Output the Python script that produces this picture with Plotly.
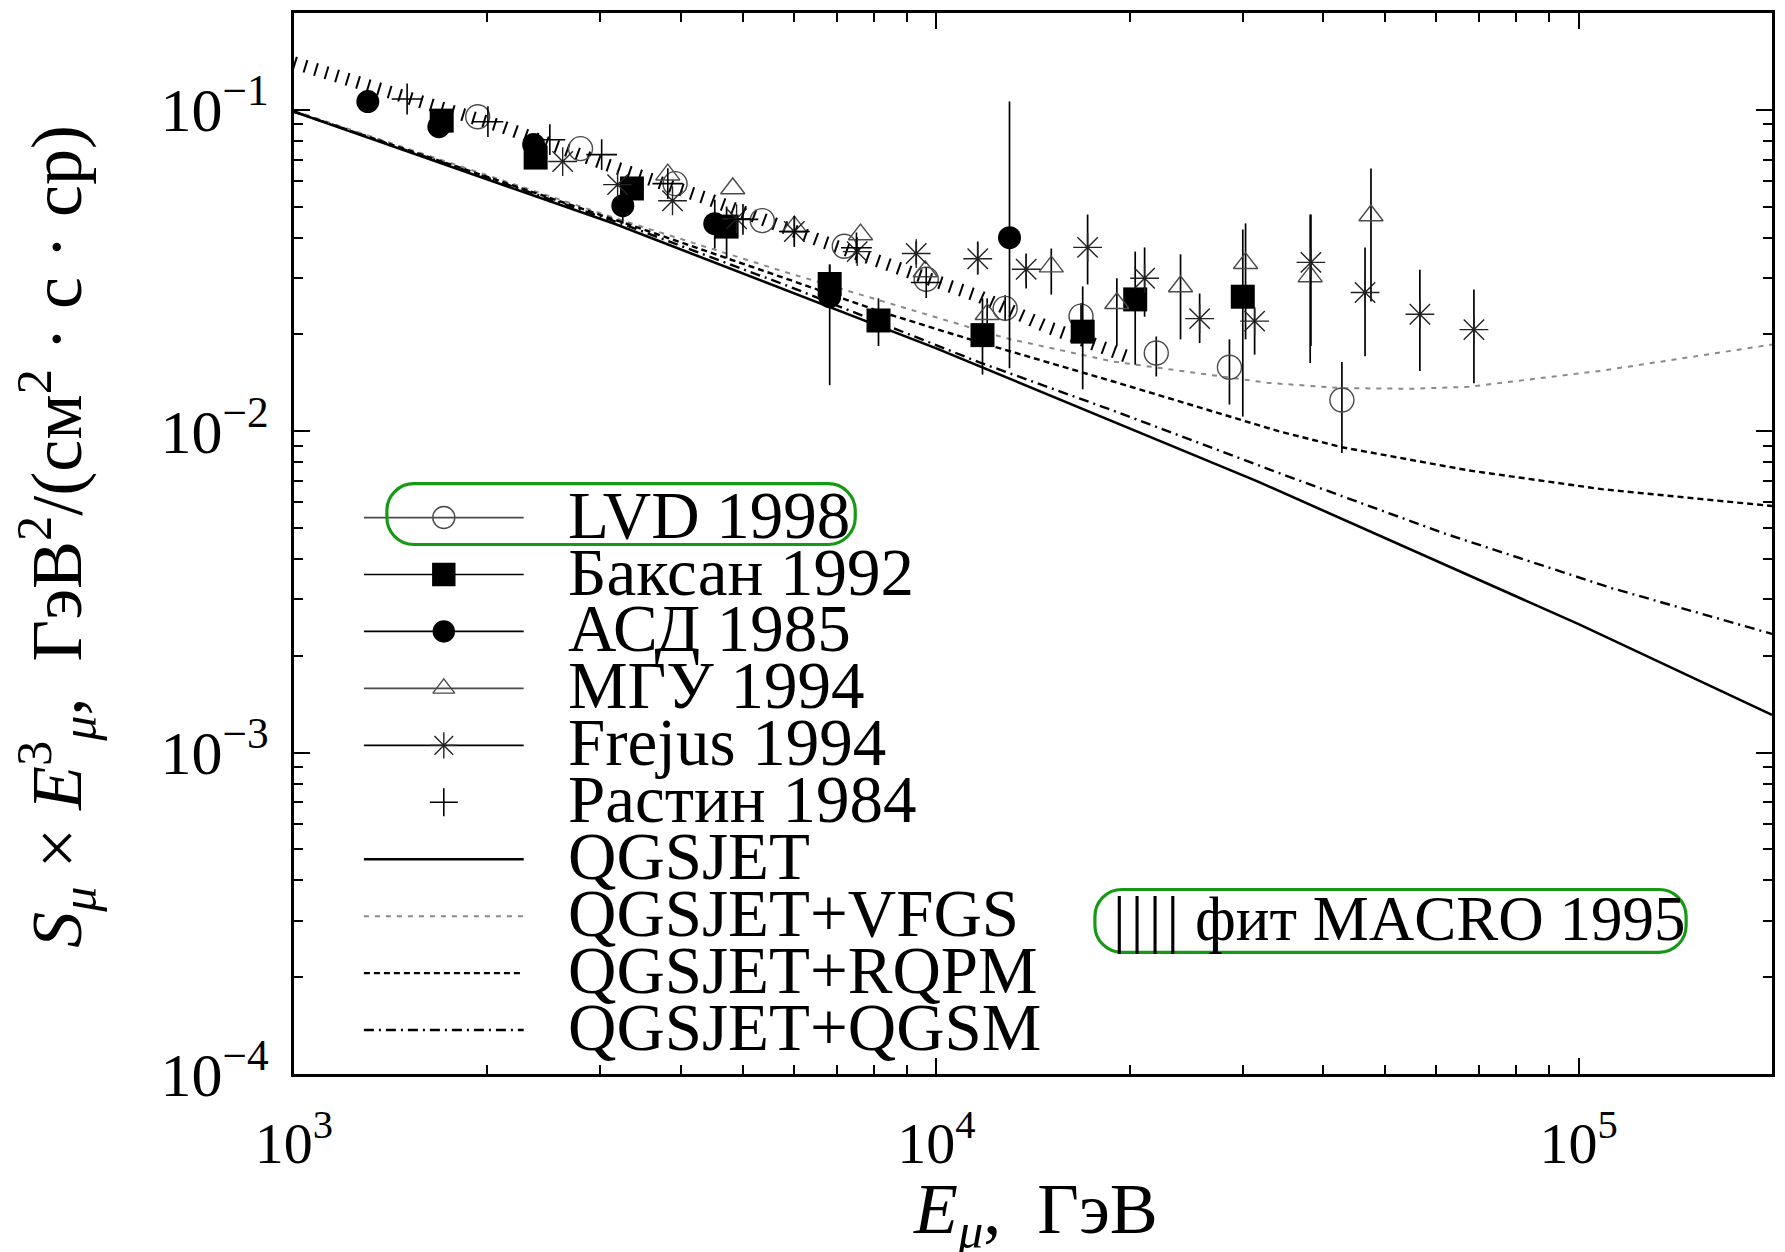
import plotly.graph_objects as go

# ---------------------------------------------------------------------------
# Muon spectrum  S_mu * E^3  [GeV^2 / (cm^2 s sr)]  versus  E_mu [GeV]
# ---------------------------------------------------------------------------
lvd_e = [1932, 2793, 3920, 5358, 7190, 9645, 12800, 16800, 22000, 28600, 42800]
lvd_s = [0.0951, 0.0757, 0.0589, 0.0452, 0.0376, 0.0297, 0.0241, 0.0228, 0.0175, 0.0158, 0.0125]
lvd_hi = [0.0951, 0.0757, 0.0589, 0.0452, 0.0376, 0.0297, 0.0265, 0.0250, 0.0197, 0.0193, 0.0164]
lvd_lo = [0.0951, 0.0757, 0.0589, 0.0452, 0.0376, 0.0297, 0.0220, 0.0210, 0.0148, 0.0121, 0.00855]

baksan_e = [1698, 2378, 3358, 4715, 6823, 8128, 11800, 16900, 20400, 30000]
baksan_s = [0.0925, 0.0710, 0.0569, 0.0433, 0.0287, 0.0221, 0.0199, 0.0204, 0.0257, 0.0262]
baksan_hi = [0.0925, 0.0710, 0.0569, 0.0500, 0.0330, 0.0259, 0.0259, 0.0282, 0.0362, 0.0424]
baksan_lo = [0.0925, 0.0710, 0.0569, 0.0345, 0.0287, 0.0184, 0.0150, 0.0135, 0.0161, 0.0111]

asd_e = [1303, 1681, 2361, 3250, 4519, 6823, 13000]
asd_s = [0.106, 0.0886, 0.0779, 0.0503, 0.0442, 0.0262, 0.0400]
asd_hi = [0.106, 0.0886, 0.0779, 0.0550, 0.0525, 0.0330, 0.106]
asd_lo = [0.106, 0.0886, 0.0779, 0.0443, 0.0370, 0.0139, 0.0157]

mgu_e = [3819, 4820, 6011, 7620, 9610, 12000, 15100, 19100, 24000, 30300, 38200, 47500]
mgu_s = [0.0628, 0.0569, 0.0433, 0.0409, 0.0314, 0.0231, 0.0325, 0.0250, 0.0282, 0.0333, 0.0303, 0.0469]
mgu_hi = [0.0628, 0.0569, 0.0433, 0.0409, 0.0314, 0.0259, 0.0370, 0.0299, 0.0355, 0.0443, 0.0472, 0.0656]
mgu_lo = [0.0628, 0.0569, 0.0433, 0.0409, 0.0314, 0.0200, 0.0266, 0.0184, 0.0193, 0.0193, 0.0163, 0.0253]

frejus_e = [2620, 3190, 3884, 4887, 6011, 7530, 9305, 11600, 13800, 17200, 21100,
            25700, 31300, 38300, 46500, 56600, 68700]
frejus_s = [0.0690, 0.0585, 0.0521, 0.0458, 0.0418, 0.0362, 0.0357, 0.0344, 0.0319, 0.0373, 0.0299,
            0.0224, 0.0220, 0.0335, 0.0270, 0.0231, 0.0207]
frejus_hi = [0.0690, 0.0585, 0.0521, 0.0458, 0.0418, 0.0362, 0.0389, 0.0389, 0.0357, 0.0472, 0.0373,
             0.0268, 0.0241, 0.0472, 0.0373, 0.0318, 0.0276]
frejus_lo = [0.0690, 0.0585, 0.0521, 0.0458, 0.0418, 0.0362, 0.0330, 0.0307, 0.0278, 0.0286, 0.0227,
             0.0188, 0.0173, 0.0184, 0.0171, 0.0154, 0.0141]

rastin_e = [1500, 2004, 2502, 3013, 3819, 5000, 6011, 7510, 9645]
rastin_s = [0.108, 0.0918, 0.0807, 0.0725, 0.0589, 0.0456, 0.0418, 0.0372, 0.0290]

# model calculations
qgsjet_e = [1000, 3162, 10000, 31620, 100000, 200000]
qgsjet_s = [0.0986, 0.0441, 0.0181, 0.00698, 0.00251, 0.00131]
vfgs_e = [1000, 3250, 5900, 12850, 18800, 32900, 42800, 55000, 67400, 108600, 200000]
vfgs_s = [0.0993, 0.0452, 0.0310, 0.01945, 0.01648, 0.01413, 0.01361, 0.01355, 0.01374, 0.01542, 0.0186]
rqpm_e = [1000, 3250, 5900, 8150, 11670, 18800, 34100, 42800, 67400, 108600, 200000]
rqpm_s = [0.0986, 0.0446, 0.0296, 0.0236, 0.0189, 0.0143, 0.0100, 0.00891, 0.00755, 0.0066, 0.00585]
qgsm_e = [1000, 3250, 5900, 11670, 18800, 34500, 62100, 112500, 200000]
qgsm_s = [0.0986, 0.0441, 0.0282, 0.01637, 0.01161, 0.00735, 0.00479, 0.00325, 0.00234]

# MACRO 1995 fit
macro_e = [1000, 1630, 2110, 3070, 4390, 6650, 9180, 11700, 14800, 20100]
macro_s = [0.140, 0.1037, 0.0886, 0.0675, 0.0530, 0.0389, 0.0314, 0.0262, 0.0212, 0.0169]

# axis ticks
x_tickvals = [1e3, 1e4, 1e5]
x_ticktext = ["10<sup>3</sup>", "10<sup>4</sup>", "10<sup>5</sup>"]
y_tickvals = [1e-4, 1e-3, 1e-2, 1e-1]
y_ticktext = ["10<sup>−4</sup>", "10<sup>−3</sup>", "10<sup>−2</sup>", "10<sup>−1</sup>"]
x_minor = [m * 10 ** d for d in (3, 4) for m in range(2, 10)] + [2e5]
y_minor = [m * 10.0 ** d for d in (-4, -3, -2, -1) for m in range(2, 10)]

legend_labels = ["LVD 1998", "Баксан 1992", "АСД 1985", "МГУ 1994", "Frejus 1994",
                 "Растин 1984", "QGSJET", "QGSJET+VFGS", "QGSJET+RQPM", "QGSJET+QGSM"]
macro_label = "|\u200a|\u200a|\u200a| фит MACRO 1995"

SERIF = "Liberation Serif"
GRAY = "#4a4a4a"
GREEN = "#169a16"

# marker styles shared by plot and key
styles = [
    dict(symbol="circle-open", size=24, color=GRAY, lw=1.4),
    dict(symbol="square", size=24, color="black", lw=0),
    dict(symbol="circle", size=23, color="black", lw=0),
    dict(symbol="triangle-up-open", size=21, color=GRAY, lw=1.4),
    dict(symbol="asterisk-open", size=24, color="#222", lw=1.4),
    dict(symbol="cross-thin-open", size=22, color="black", lw=1.6),
]
curve_styles = [
    dict(color="black", width=2.6, dash="solid"),
    dict(color="#8a8a8a", width=2.0, dash="5px,6px"),
    dict(color="black", width=2.4, dash="6px,4px"),
    dict(color="black", width=2.4, dash="10px,5px,2px,5px"),
]

fig = go.Figure()

# model curves
for ex, sy, st in zip([qgsjet_e, vfgs_e, rqpm_e, qgsm_e],
                      [qgsjet_s, vfgs_s, rqpm_s, qgsm_s], curve_styles):
    fig.add_trace(go.Scatter(x=ex, y=sy, mode="lines", line=st, hoverinfo="skip"))

# MACRO fit drawn as a band of short ticks
fig.add_trace(go.Scatter(x=macro_e, y=macro_s, mode="lines",
                         line=dict(color="black", width=13, dash="2px,9px")))


def errs(s, hi, lo):
    return dict(type="data", symmetric=False,
                array=[h - v for h, v in zip(hi, s)],
                arrayminus=[v - l for v, l in zip(s, lo)],
                width=0, thickness=1.7, color="black")


series = [
    (lvd_e, lvd_s, lvd_hi, lvd_lo),
    (baksan_e, baksan_s, baksan_hi, baksan_lo),
    (asd_e, asd_s, asd_hi, asd_lo),
    (mgu_e, mgu_s, mgu_hi, mgu_lo),
    (frejus_e, frejus_s, frejus_hi, frejus_lo),
]
for (ex, sy, hi, lo), st in zip(series, styles[:5]):
    fig.add_trace(go.Scatter(
        x=ex, y=sy, mode="markers", error_y=errs(sy, hi, lo),
        marker=dict(symbol=st["symbol"], size=st["size"], color=st["color"],
                    line=dict(color=st["color"], width=st["lw"]))))

fig.add_trace(go.Scatter(
    x=rastin_e, y=rastin_s, mode="markers",
    marker=dict(symbol="cross-thin-open", size=22, color="black",
                line=dict(color="black", width=1.6))))

# ---- key drawn in pixel space (overlay axes x2/y2 span the plot area) ----
X0, X1 = 294, 1774
Y_TOP, Y_BOT = 10, 1074
row_y = [516 + 57.1 * i for i in range(len(legend_labels))]
KEY_L, KEY_R, KEY_M, KEY_TXT = 364, 524, 444, 566

for i, (lab, y) in enumerate(zip(legend_labels, row_y)):
    if i < 5:
        st = styles[i]
        fig.add_trace(go.Scatter(x=[KEY_L, KEY_R], y=[y, y], mode="lines",
                                 line=dict(color=st["color"] if i in (0, 3) else "black", width=1.7),
                                 xaxis="x2", yaxis="y2", hoverinfo="skip"))
    if i < 6:
        st = styles[i]
        fig.add_trace(go.Scatter(x=[KEY_M], y=[y], mode="markers",
                                 marker=dict(symbol=st["symbol"], size=st["size"] - 2, color=st["color"],
                                             line=dict(color=st["color"], width=max(st["lw"], 1.4))),
                                 xaxis="x2", yaxis="y2", hoverinfo="skip"))
    else:
        fig.add_trace(go.Scatter(x=[KEY_L, KEY_R], y=[y, y], mode="lines",
                                 line=curve_styles[i - 6], xaxis="x2", yaxis="y2", hoverinfo="skip"))
    fig.add_annotation(x=KEY_TXT, y=y - 3, xref="x2", yref="y2", text=lab, showarrow=False,
                       xanchor="left", yanchor="middle",
                       font=dict(family=SERIF, size=67, color="black"))

fig.add_annotation(x=1112, y=919, xref="x2", yref="y2", text=macro_label, showarrow=False,
                   xanchor="left", yanchor="middle",
                   font=dict(family=SERIF, size=63, color="black"))


def stadium(x0, y0, x1, y1, r):
    k = 0.5523 * r
    return (f"M {x0 + r},{y0} L {x1 - r},{y0} "
            f"C {x1 - r + k},{y0} {x1},{y0 + r - k} {x1},{y0 + r} "
            f"L {x1},{y1 - r} C {x1},{y1 - r + k} {x1 - r + k},{y1} {x1 - r},{y1} "
            f"L {x0 + r},{y1} C {x0 + r - k},{y1} {x0},{y1 - r + k} {x0},{y1 - r} "
            f"L {x0},{y0 + r} C {x0},{y0 + r - k} {x0 + r - k},{y0} {x0 + r},{y0} Z")


for box in [(387, 482, 856, 543), (1096, 889, 1688, 952)]:
    fig.add_shape(type="path", path=stadium(*box, 27), xref="x2", yref="y2",
                  line=dict(color=GREEN, width=3.2), layer="above")

# axis titles
fig.add_annotation(
    x=(56 - X0) / (X1 - X0), y=(Y_BOT - 535) / (Y_BOT - Y_TOP), xref="paper", yref="paper",
    text="<i>S</i><sub><i>μ</i></sub> × <i>E</i><sup>3</sup><sub><i>μ</i></sub>,  "
         "ГэВ<sup>2</sup>/(см<sup>2</sup> · с · ср)",
    textangle=-90, showarrow=False, xanchor="center", yanchor="middle",
    font=dict(family=SERIF, size=72, color="black"))
fig.add_annotation(
    x=(1037 - X0) / (X1 - X0), y=(Y_BOT - 1214) / (Y_BOT - Y_TOP), xref="paper", yref="paper",
    text="<i>E</i><sub><i>μ</i></sub>,  ГэВ", showarrow=False, xanchor="center", yanchor="middle",
    font=dict(family=SERIF, size=72, color="black"))

axis_common = dict(showline=True, linecolor="black", linewidth=3, mirror="allticks",
                   ticks="inside", ticklen=16, tickwidth=2.4, tickcolor="black",
                   showgrid=False, zeroline=False)

fig.update_layout(
    width=1785, height=1252,
    margin=dict(l=X0, r=1785 - X1, t=Y_TOP, b=1252 - Y_BOT, pad=0),
    paper_bgcolor="white", plot_bgcolor="white",
    showlegend=False,
    xaxis=dict(type="log", range=[3, 5.30103], tickmode="array",
               tickvals=x_tickvals, ticktext=x_ticktext, ticklabelstandoff=16,
               tickfont=dict(family=SERIF, size=58, color="black"),
               minor=dict(tickmode="array", tickvals=x_minor, ticks="inside",
                          ticklen=9, tickwidth=2, tickcolor="black", showgrid=False),
               **axis_common),
    yaxis=dict(type="log", range=[-4, -0.69897], tickmode="array",
               tickvals=y_tickvals, ticktext=y_ticktext, ticklabelstandoff=10,
               tickfont=dict(family=SERIF, size=62, color="black"),
               minor=dict(tickmode="array", tickvals=y_minor, ticks="inside",
                          ticklen=9, tickwidth=2, tickcolor="black", showgrid=False),
               **axis_common),
    xaxis2=dict(overlaying="x", anchor="y2", range=[X0, X1], visible=False),
    yaxis2=dict(overlaying="y", anchor="x2", range=[Y_BOT, Y_TOP], visible=False),
)

fig.write_html("out.html")
